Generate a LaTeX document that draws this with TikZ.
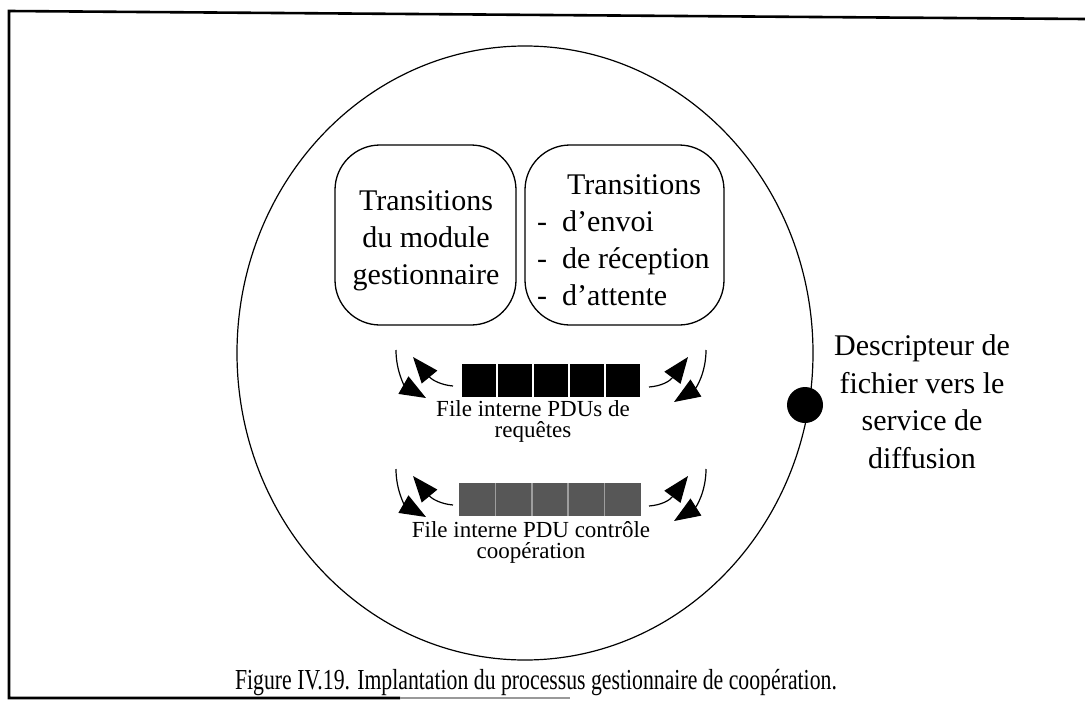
\documentclass[tikz,border=0pt]{standalone}
\usepackage{fontspec}
\setmainfont{Liberation Serif}
\usetikzlibrary{arrows.meta,shapes.geometric}
\begin{document}
\begin{tikzpicture}[x=1pt,y=-1pt,
  big/.style={font=\fontsize{30}{36}\selectfont, inner sep=0pt, anchor=base},
  small/.style={font=\fontsize{23}{27}\selectfont, inner sep=0pt, anchor=base},
  tbox/.style={draw, line width=1.3pt, rounded corners=45pt, inner sep=0pt},
  flow/.style={line width=1.2pt, -{Triangle[length=26pt,width=20pt]}},
  frameline/.style={line width=2.6pt}]
\useasboundingbox (0,0) rectangle (1085,718);
% frame
\coordinate (ftl) at (9,11);
\coordinate (ftr) at (1085,19);
\coordinate (fbl) at (9,698);
\coordinate (fbm) at (400,698);
\coordinate (fbr) at (570,698);
\draw[frameline] (ftr) -- (ftl) -- (fbl) -- (fbm);
\draw[frameline, black!40] (fbm) -- (fbr);
% process ellipse
\node[draw, ellipse, minimum width=576pt, minimum height=614pt, inner sep=0pt, line width=1.2pt] (proc) at (525,353) {};
% boxes
\node[tbox, minimum width=181pt, minimum height=180pt] (gbox) at (425.5,235) {};
\node[tbox, minimum width=199pt, minimum height=180pt] (tbox) at (624.5,235) {};
\node[big] (g1) at (426,210) {Transitions};
\node[big] (g2) at (426,247) {du module};
\node[big] (g3) at (426,284) {gestionnaire};
\node[big] (t0) at (634,194) {Transitions};
\node[big, anchor=base west] (d1) at (537,231) {-};
\node[big, anchor=base west] (d2) at (537,268) {-};
\node[big, anchor=base west] (d3) at (537,305) {-};
\node[big, anchor=base west] (t1) at (562,231) {d'envoi};
\node[big, anchor=base west] (t2) at (562,268) {de réception};
\node[big, anchor=base west] (t3) at (562,305) {d'attente};
% queue 1
\node[minimum width=178pt, minimum height=33pt, inner sep=0pt] (q1) at (551,380.5) {};
\foreach \i in {0,...,4} \fill (462+36*\i,364) rectangle ++(34,33);
\node[small] (l1a) at (533,416) {File interne PDUs de};
\node[small] (l1b) at (533,437) {requêtes};
% queue 2
\node[minimum width=182pt, minimum height=33pt, inner sep=0pt] (q2) at (550,499.5) {};
\fill[black!66] (459,483) rectangle (641,516);
\foreach \i in {1,...,4} \draw[black!38, line width=1.5pt] (459+36.4*\i,483) -- ++(0,33);
\node[small] (l2a) at (531,537) {File interne PDU contrôle};
\node[small] (l2b) at (531,558) {coopération};
% arrows
\foreach \dy in {0,119} {
  \draw[flow] (453,386+\dy) .. controls (441,385+\dy) and (432,380+\dy) .. (413,357+\dy);
  \draw[flow] (396,350+\dy) .. controls (396,372+\dy) and (405,386+\dy) .. (426,398+\dy);
  \draw[flow] (649,387+\dy) .. controls (662,386+\dy) and (670,381+\dy) .. (688,357+\dy);
  \draw[flow] (706,350+\dy) .. controls (706,373+\dy) and (696,388+\dy) .. (674,402+\dy);
}
% descriptor
\node[circle, fill, minimum size=36pt, inner sep=0pt] (dot) at (805,405) {};
\node[big] (s1) at (922,355) {Descripteur de};
\node[big] (s2) at (922,393) {fichier vers le};
\node[big] (s3) at (922,430) {service de};
\node[big] (s4) at (922,468) {diffusion};
% caption
\node[font=\fontsize{29}{33}\selectfont, inner sep=0pt, anchor=base] (cap) at (536,689) {\scalebox{0.75}[1]{Figure IV.19. Implantation du processus gestionnaire de coopération.}};
\end{tikzpicture}
\end{document}
